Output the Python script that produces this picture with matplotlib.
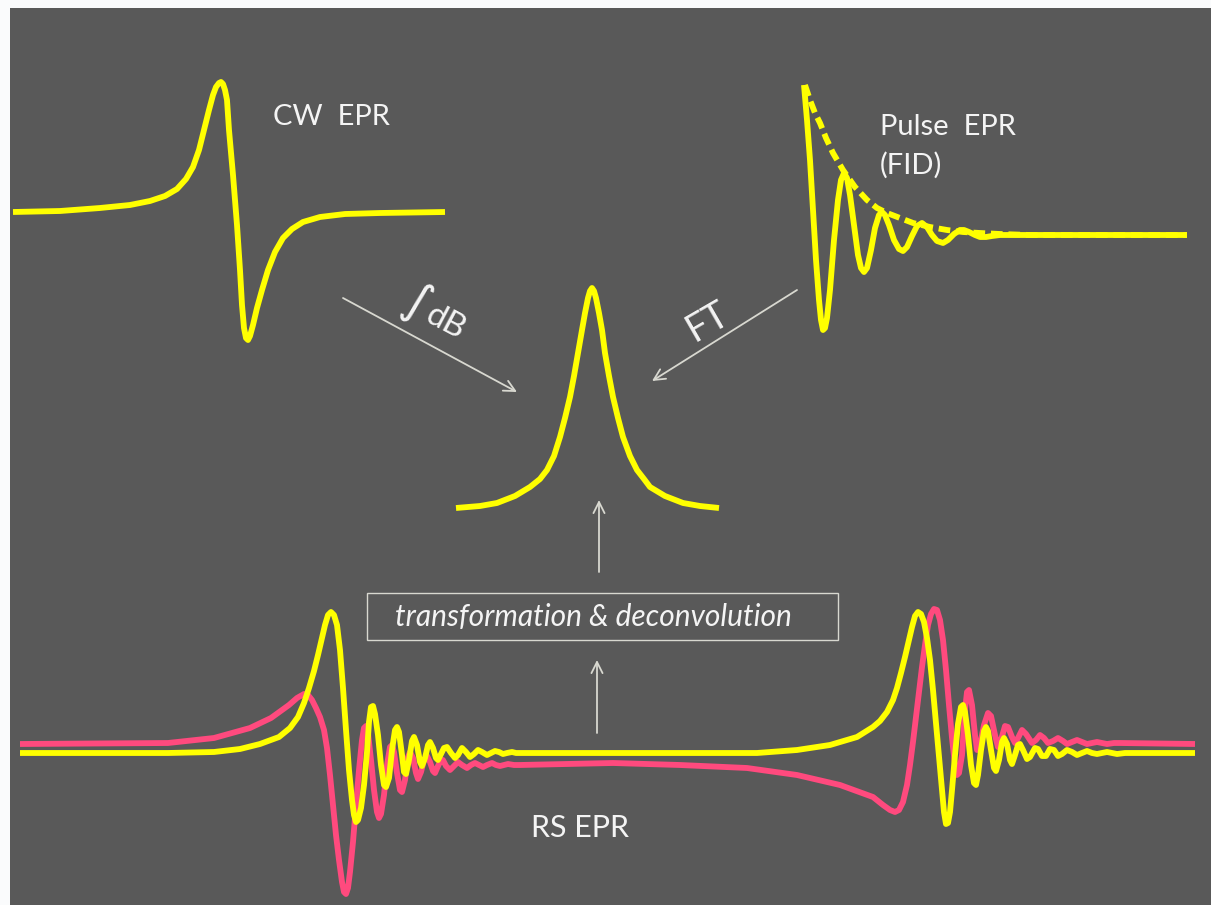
import matplotlib.pyplot as plt
import matplotlib.patches as mpatches

# all coordinates below in pixel units (y grows downward)

# CW EPR (first derivative line)
cw_x = [13, 60, 100, 130, 150, 165, 177, 186, 193, 199, 204, 209, 213, 216, 219, 221, 223, 225, 227, 229, 233, 237, 240, 242, 244, 246, 248,
        250, 253, 257, 262, 268, 275, 283, 292, 303, 320, 345, 380, 445]
cw_y = [212, 211, 208, 205, 201, 196, 189, 179, 167, 150, 130, 110, 95, 87, 83, 82, 84, 90, 100, 130, 175, 225, 270, 305, 328, 338, 340,
        336, 325, 308, 290, 270, 252, 238, 229, 222, 217, 214, 213, 212]

# Pulse EPR: FID and its envelope
fid_x = [804, 807, 810, 813, 816, 819, 821, 823, 825, 827, 830, 834, 838, 841, 844, 847, 850, 854, 858, 861, 864, 867, 871, 875, 879, 882,
         885, 889, 894, 899, 903, 907, 912, 917, 922, 927, 932, 937, 943, 948, 954, 960, 964, 969, 975, 980, 986, 992, 1000, 1187]
fid_y = [85, 120, 160, 210, 260, 300, 320, 330, 328, 318, 290, 240, 200, 180, 173, 178, 195, 225, 255, 268, 272, 268, 250, 228, 215, 212,
         215, 225, 240, 249, 251, 247, 236, 226, 223, 227, 235, 241, 243, 240, 234, 230, 230, 232, 235, 237, 237, 236, 235, 235]
env_x = [805, 810, 815, 820, 826, 833, 843, 855, 867, 877, 887, 900, 913, 930, 947, 963, 980, 1000, 1030, 1187]
env_y = [85, 100, 113, 123, 138, 153, 170, 187, 200, 208, 213, 218, 223, 227, 230, 232, 233, 234, 235, 235]

# absorption line in the middle
lor_x = [456, 480, 497, 515, 530, 540, 547, 554, 560, 565, 570, 574, 578, 582, 585, 588, 590, 592, 594, 596, 599, 602, 605, 609, 613, 618,
         623, 630, 637, 644, 650, 665, 683, 700, 719]
lor_y = [508, 506, 503, 496, 487, 479, 470, 456, 437, 418, 397, 376, 353, 330, 313, 298, 291, 288, 291, 298, 313, 330, 353, 376, 397, 418,
         437, 456, 470, 479, 487, 496, 503, 506, 508]

# RS EPR, yellow trace
rs_y_x = [20, 168, 214, 240, 260, 279, 290, 298, 304, 309, 314, 318, 322, 325, 328, 331, 334, 337, 340, 343, 346, 349, 352, 354, 356, 358,
          361, 364, 367, 369, 371, 373, 375, 378, 381, 384, 386, 389, 392, 395, 397, 399, 402, 404, 406, 409, 412, 414, 417, 420, 422, 425,
          428, 430, 433, 436, 438, 441, 444, 447, 451, 455, 458, 462, 466, 470, 474, 478, 482, 487, 491, 495, 499, 503, 507, 512, 516, 520,
          757, 797, 830, 857, 873, 880, 887, 893, 897, 901, 905, 909, 912, 915, 918, 921, 924, 927, 930, 933, 936, 939, 942, 944, 946, 948,
          950, 952, 955, 958, 961, 963, 965, 968, 971, 974, 976, 978, 981, 984, 986, 988, 991, 994, 996, 999, 1002, 1004, 1007, 1010, 1012,
          1015, 1018, 1020, 1023, 1027, 1030, 1035, 1038, 1042, 1046, 1050, 1054, 1058, 1062, 1067, 1072, 1077, 1082, 1087, 1092, 1097, 1102,
          1107, 1112, 1117, 1125, 1195]
rs_y_y = [753, 753, 752, 749, 744, 737, 728, 717, 703, 688, 671, 655, 638, 625, 615, 612, 615, 625, 650, 688, 730, 770, 800, 815, 822, 820,
          808, 785, 752, 722, 707, 706, 714, 735, 765, 785, 787, 778, 750, 730, 727, 732, 755, 772, 774, 760, 741, 737, 745, 762, 766, 758,
          745, 742, 748, 758, 760, 754, 748, 747, 753, 758, 755, 748, 752, 757, 754, 750, 752, 755, 753, 751, 752, 754, 753, 752, 753, 753,
          753, 750, 745, 737, 727, 721, 712, 700, 688, 673, 657, 640, 627, 616, 612, 614, 622, 638, 660, 690, 723, 757, 790, 812, 824, 823,
          812, 790, 755, 724, 707, 705, 712, 735, 765, 783, 785, 775, 750, 731, 727, 731, 750, 768, 771, 760, 742, 738, 744, 760, 764,
          755, 745, 744, 750, 759, 757, 748, 749, 756, 756, 749, 750, 756, 754, 750, 752, 755, 753, 751, 753, 754, 753,
          752, 753, 754, 753, 753]

# RS EPR, pink trace
rs_p_x = [20, 168, 214, 250, 271, 289, 297, 304, 308, 312, 316, 320, 324, 327, 330, 333, 336, 339, 342, 344, 346, 348, 350, 353, 356, 359,
          362, 364, 366, 368, 371, 374, 377, 379, 381, 384, 387, 390, 392, 394, 397, 400, 402, 405, 408, 410, 413, 416, 418, 421, 424, 427,
          430, 433, 435, 438, 441, 443, 446, 450, 454, 458, 462, 467, 471, 475, 479, 483, 487, 492, 496, 500, 504, 508, 514, 520,
          613, 680, 747, 797, 840, 873, 883, 890, 895, 899, 903, 907, 910, 913, 916, 919, 922, 925, 928, 931, 934, 937, 940, 943, 946, 949,
          952, 955, 957, 959, 962, 965, 967, 969, 972, 975, 977, 980, 984, 988, 991, 995, 998, 1001, 1005, 1008, 1012, 1015, 1018, 1022,
          1026, 1032, 1036, 1040, 1044, 1048, 1053, 1058, 1063, 1067, 1072, 1077, 1082, 1087, 1092, 1097, 1102, 1107, 1114, 1120, 1195]
rs_p_y = [744, 743, 738, 728, 718, 705, 698, 694, 695, 700, 708, 717, 730, 748, 775, 805, 835, 860, 882, 892, 894, 888, 872, 842, 805, 770,
          740, 728, 726, 733, 760, 790, 812, 818, 814, 795, 765, 747, 745, 752, 773, 790, 792, 780, 757, 752, 758, 773, 779, 772, 760, 756,
          762, 771, 773, 766, 760, 760, 766, 770, 766, 762, 765, 768, 765, 763, 765, 767, 765, 763, 765, 766, 765, 764, 765, 765,
          763, 765, 768, 775, 785, 797, 805, 810, 812, 810, 802, 785, 765, 742, 717, 692, 667, 645, 625, 614, 609, 610, 620, 640, 670, 705,
          738, 765, 775, 773, 755, 710, 692, 690, 705, 735, 750, 745, 725, 713, 716, 735, 747, 740, 726, 727, 737, 743, 738, 730,
          734, 743, 740, 735, 738, 743, 741, 738, 741, 744, 742, 740, 742, 744, 743, 742, 743, 744, 743, 743, 744]

yellow = '#ffff00'
pink = '#ff4a7e'
grey = '#d8d8d0'
txt = '#f4f4f4'
lw = 4.2

fig = plt.figure(figsize=(12.11, 9.05), dpi=100, facecolor='#fafbfc')
ax = fig.add_axes([0, 0, 1, 1])
ax.set_xlim(0, 1211)
ax.set_ylim(905, 0)
ax.axis('off')
ax.add_patch(mpatches.Rectangle((10, 8), 1211, 905, facecolor='#595959', edgecolor='none', zorder=0))

kw = dict(lw=lw, solid_joinstyle='round', solid_capstyle='butt')
ax.plot(env_x, env_y, color=yellow, lw=lw, linestyle=(0, (2.0, 1.0)))
ax.plot(fid_x, fid_y, color=yellow, **kw)
ax.plot(cw_x, cw_y, color=yellow, **kw)
ax.plot(lor_x, lor_y, color=yellow, **kw)
ax.plot(rs_p_x, rs_p_y, color=pink, **kw)
ax.plot(rs_y_x, rs_y_y, color=yellow, **kw)

# arrows
arr = dict(arrowstyle='->', color=grey, lw=1.3, mutation_scale=20, shrinkA=0, shrinkB=0)
ax.annotate('', xy=(517, 392), xytext=(343, 298), arrowprops=arr)
ax.annotate('', xy=(652, 381), xytext=(797, 290), arrowprops=arr)
ax.annotate('', xy=(599, 500), xytext=(599, 572), arrowprops=arr)
ax.annotate('', xy=(597, 660), xytext=(597, 733), arrowprops=arr)

font = 'Lato'
ax.text(273, 117, 'CW  EPR', color=txt, fontsize=21, family=font, va='center', ha='left')
ax.text(880, 127, 'Pulse  EPR', color=txt, fontsize=21, family=font, va='center', ha='left')
ax.text(880, 165, '(FID)', color=txt, fontsize=21, family=font, va='center', ha='left')
ax.text(580, 828, 'RS EPR', color=txt, fontsize=22, family=font, va='center', ha='center')
ax.text(416, 304, '\u222b', color=txt, fontsize=34, family='DejaVu Sans', va='center', ha='center', rotation=-28)
ax.text(446, 322, 'dB', color=txt, fontsize=24, family=font, va='center', ha='center', rotation=-28)
ax.text(708, 322, 'FT', color=txt, fontsize=27, family=font, va='center', ha='center', rotation=30)

ax.add_patch(mpatches.Rectangle((367, 593), 471, 47, facecolor='none', edgecolor=grey, lw=1.0))
ax.text(593, 617, 'transformation & deconvolution', color=txt, fontsize=21.5, family=font,
        style='italic', va='center', ha='center')

fig.savefig('out.png', dpi=100, facecolor=fig.get_facecolor())
